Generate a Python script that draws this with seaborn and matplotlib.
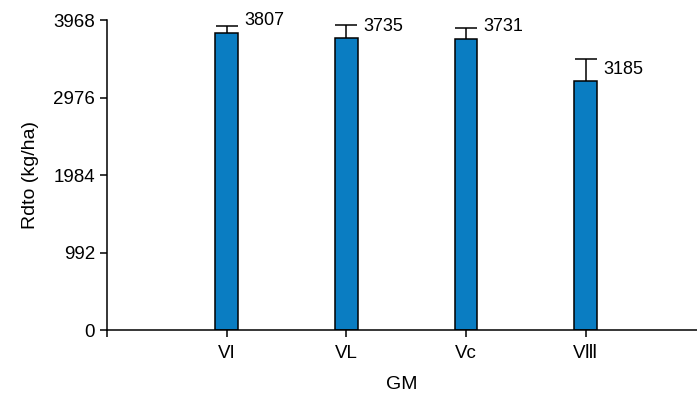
import matplotlib
matplotlib.use("Agg")
import matplotlib.pyplot as plt
import seaborn as sns
import pandas as pd

# Yield by maturity group (GM)
groups = ["VI", "VL", "Vc", "V\u2162"]
yields = [3807, 3735, 3731, 3185]
errors = [90, 166, 140, 282]
yticks = [0, 992, 1984, 2976, 3968]

sns.set_theme(style="ticks")
plt.rcParams["font.family"] = ["Liberation Sans", "DejaVu Sans"]

df = pd.DataFrame({"GM": groups, "Rdto": yields})

fig = plt.figure(figsize=(6.97, 3.94), dpi=100)
ax = fig.add_axes([0.1535, 0.1624, 0.8465, 0.7868])

bar_w = 0.19
sns.barplot(data=df, x="GM", y="Rdto", ax=ax, width=bar_w, color="#0A7DC2",
            saturation=1, edgecolor="black", linewidth=1.1, errorbar=None)

# upper error bars only
xs = list(range(len(groups)))
_, caps, _ = ax.errorbar(xs, yields, yerr=[[0] * len(yields), errors], fmt="none",
                         ecolor="black", elinewidth=1.1, capsize=8, capthick=1.1)
caps[0].set_visible(False)

# value labels beside each bar
for x, v in zip(xs, yields):
    ax.text(x + bar_w / 2 + 0.05, v + 150, f"{v}", ha="left", va="center",
            fontsize=13, color="black")

ax.set_xlim(-1, 3.93)
ax.set_ylim(0, 3968)
ax.set_yticks(yticks)
ax.set_yticklabels([str(t) for t in yticks])
ax.set_xticks([-1] + xs)
ax.set_xticklabels([""] + groups)

ax.set_xlabel("GM", fontsize=14, labelpad=10, color="black")
ax.set_ylabel("Rdto (kg/ha)", fontsize=14, labelpad=10, color="black")
ax.tick_params(axis="both", labelsize=13.5, length=5, width=1.1, color="black",
               labelcolor="black", direction="out")
ax.tick_params(axis="x", pad=6)
for s in ["left", "bottom"]:
    ax.spines[s].set_linewidth(1.1)
    ax.spines[s].set_color("black")
sns.despine(ax=ax)

fig.savefig("out.png", dpi=100)
